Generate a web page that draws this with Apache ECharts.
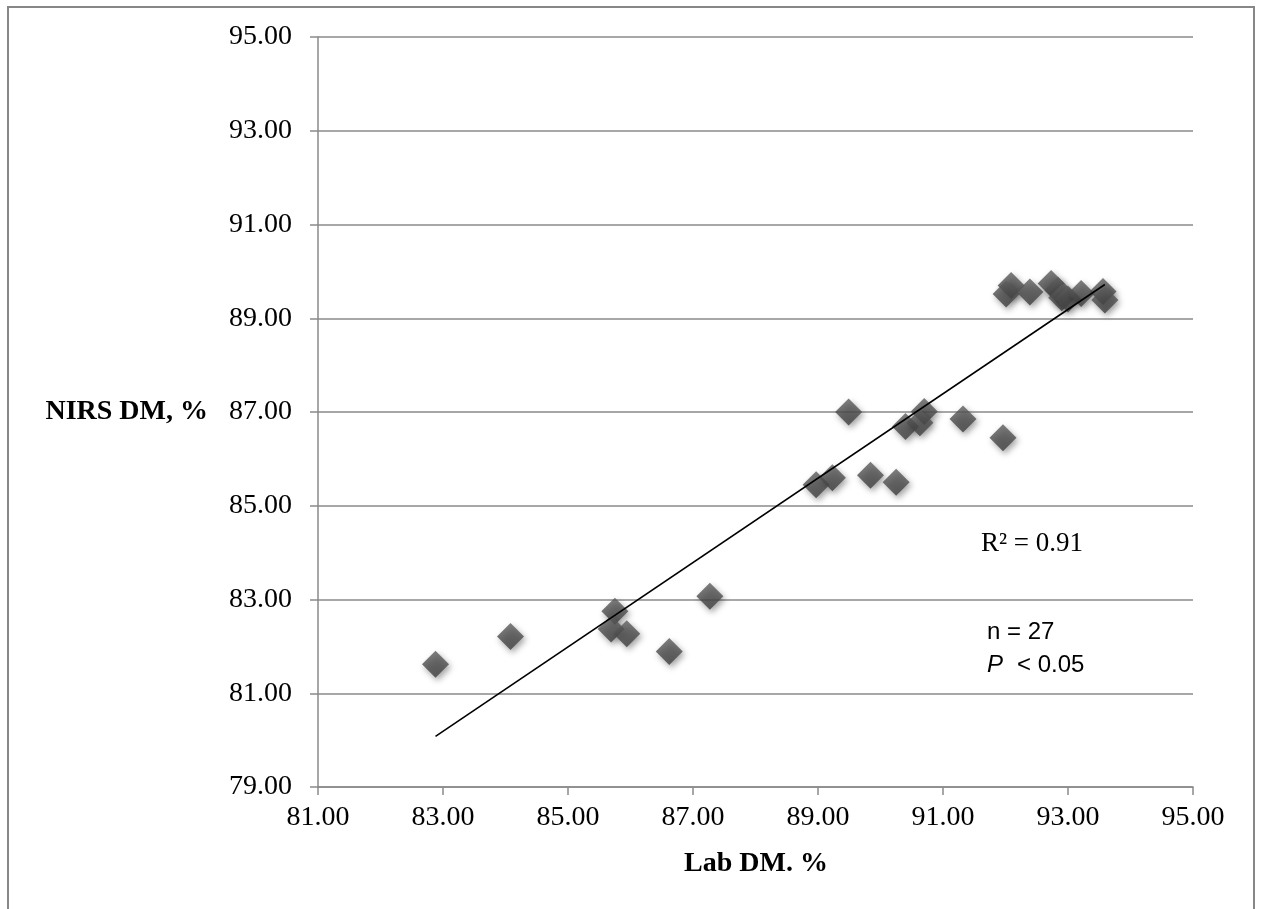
<!DOCTYPE html>
<html>
<head>
<meta charset="utf-8">
<script src="https://cdn.jsdelivr.net/npm/echarts@6/dist/echarts.min.js"></script>
<style>
html,body{margin:0;padding:0;background:#fff;}
#chart{width:1262px;height:909px;}
</style>
</head>
<body>
<div id="chart"></div>
<script>
// Lab DM (%) values, x
const labDM = [82.88, 84.08, 85.75, 85.69, 85.94, 86.62, 87.27, 89.49, 88.97, 89.23, 89.84, 90.25, 90.40, 90.70, 90.63, 91.32, 91.96, 92.09, 92.01, 92.39, 92.73, 92.84, 92.90, 93.00, 93.21, 93.56, 93.59];
// NIRS DM (%) values, y
const nirsDM = [81.62, 82.21, 82.75, 82.37, 82.27, 81.89, 83.07, 87.00, 85.45, 85.60, 85.65, 85.50, 86.69, 87.01, 86.77, 86.85, 86.45, 89.70, 89.52, 89.56, 89.74, 89.60, 89.44, 89.41, 89.53, 89.57, 89.39];
const xTicks = [81, 83, 85, 87, 89, 91, 93, 95];
const yTicks = [79, 81, 83, 85, 87, 89, 91, 93, 95];
const annotR2 = 'R² = 0.91';
const annotN = 'n = 27';
const annotP = ['P', '< 0.05'];
const xName = 'Lab DM. %';
const yName = 'NIRS DM, %';

const points = labDM.map((x, i) => [x, nirsDM[i]]);
// least squares trend line
const n = labDM.length;
const mx = labDM.reduce((a, b) => a + b, 0) / n;
const my = nirsDM.reduce((a, b) => a + b, 0) / n;
let sxy = 0, sxx = 0;
for (let i = 0; i < n; i++) { sxy += (labDM[i] - mx) * (nirsDM[i] - my); sxx += (labDM[i] - mx) ** 2; }
const slope = sxy / sxx, icpt = my - slope * mx;
const xmin = Math.min(...labDM), xmax = Math.max(...labDM);
const trend = [[xmin, icpt + slope * xmin], [xmax, icpt + slope * xmax]];

const chart = echarts.init(document.getElementById('chart'), null, {renderer: 'canvas'});
const gridCol = '#8a8a8a';
const serif = '"Liberation Serif","Times New Roman",serif';
chart.setOption({
  animation: false,
  backgroundColor: '#fff',
  grid: {left: 318, right: 69, top: 37, bottom: 122, containLabel: false},
  xAxis: {
    type: 'value', min: 81, max: 95, interval: 2,
    axisLine: {show: true, lineStyle: {color: gridCol, width: 1.5}},
    axisTick: {show: true, inside: false, length: 8, lineStyle: {color: gridCol, width: 1.5}},
    splitLine: {show: false},
    axisLabel: {margin: 17, color: '#000', fontFamily: serif, fontSize: 28,
      formatter: v => xTicks.includes(v) ? v.toFixed(2) : ''}
  },
  yAxis: {
    type: 'value', min: 79, max: 95, interval: 2,
    axisLine: {show: true, lineStyle: {color: gridCol, width: 1.5}},
    axisTick: {show: true, inside: false, length: 8, lineStyle: {color: gridCol, width: 1.5}},
    splitLine: {show: true, lineStyle: {color: gridCol, width: 1.5}},
    axisLabel: {margin: 26, color: '#000', fontFamily: serif, fontSize: 28,
      formatter: v => yTicks.includes(v) ? v.toFixed(2) : ''}
  },
  series: [
    {
      type: 'scatter', data: points, symbol: 'diamond', symbolSize: 27, z: 3,
      itemStyle: {
        color: new echarts.graphic.LinearGradient(0, 0, 0, 1, [
          {offset: 0, color: '#5f5f5f'}, {offset: 1, color: '#3e3e3e'}]),
        shadowColor: 'rgba(0,0,0,0.45)', shadowBlur: 6, shadowOffsetX: 2, shadowOffsetY: 3
      }
    },
    {
      type: 'line', data: trend, symbol: 'none', z: 4,
      lineStyle: {color: '#000', width: 1.6}
    }
  ],
  graphic: [
    {type: 'rect', shape: {x: 8, y: 7, width: 1246, height: 1000}, silent: true, z: -10,
      style: {fill: null, stroke: '#878787', lineWidth: 2}},
    {type: 'text', left: null, x: 208, y: 412, z: 10,
      style: {text: yName, font: 'bold 28px ' + serif, fill: '#000', align: 'right', verticalAlign: 'middle'}},
    {type: 'text', x: 756, y: 864, z: 10,
      style: {text: xName, font: 'bold 28px ' + serif, fill: '#000', align: 'center', verticalAlign: 'middle'}},
    {type: 'text', x: 981, y: 544, z: 10,
      style: {text: annotR2, font: '27px ' + serif, fill: '#000', align: 'left', verticalAlign: 'middle'}},
    {type: 'text', x: 987, y: 632, z: 10,
      style: {text: annotN, font: '24px "Liberation Sans", Arial, sans-serif', fill: '#000', align: 'left', verticalAlign: 'middle'}},
    {type: 'text', x: 987, y: 665, z: 10,
      style: {text: annotP[0], font: 'italic 24px "Liberation Sans", Arial, sans-serif', fill: '#000', align: 'left', verticalAlign: 'middle'}},
    {type: 'text', x: 1017, y: 665, z: 10,
      style: {text: annotP[1], font: '24px "Liberation Sans", Arial, sans-serif', fill: '#000', align: 'left', verticalAlign: 'middle'}}
  ]
});
</script>
</body>
</html>
